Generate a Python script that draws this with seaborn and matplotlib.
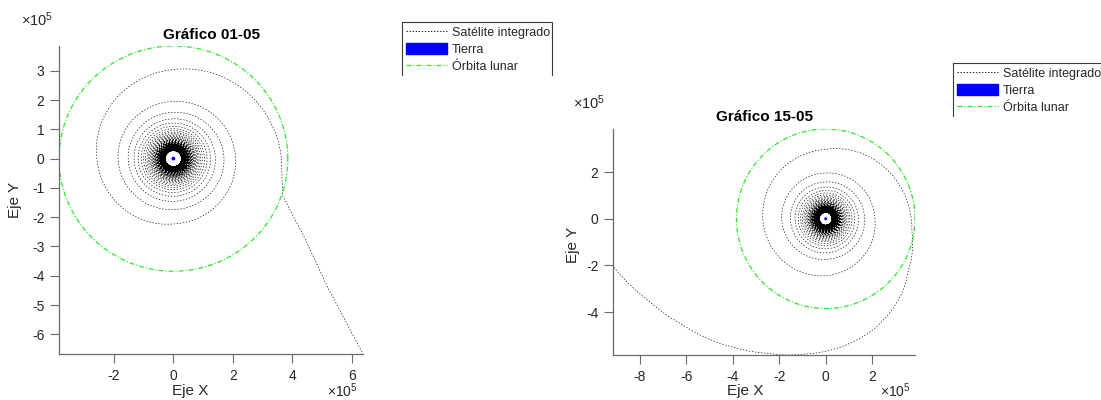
import numpy as np
import pandas as pd
import matplotlib
matplotlib.use("Agg")
import matplotlib.pyplot as plt
import seaborn as sns
from matplotlib.lines import Line2D
from matplotlib.patches import Patch
from matplotlib.ticker import FuncFormatter, MultipleLocator

# ---------------------------------------------------------------- data (km)
EARTH_RADIUS = 6371
MOON_ORBIT_RADIUS = 384400

# spiral radius at the top of every revolution, innermost revolution first
core_top_radius = [
    27000, 27150, 27300, 27450, 27600, 27750, 27900, 28050, 28200, 28350,
    28500, 28650, 28800, 29000, 29200, 29350, 29500, 29700, 29900, 30100,
    30300, 30500, 30700, 30900, 31100, 31300, 31500, 31700, 32000, 32200,
    32400, 32700, 32900, 33200, 33400, 33700, 34000, 34300, 34500, 34800,
    35100, 35400, 35800, 36100, 36400, 36800, 37100, 37500, 37800, 38200,
    38600, 39000, 39500, 39900, 40400, 40800, 41300, 41800, 42300, 42900,
    43400, 44000, 44600, 45300, 45900, 46600, 47300, 48100, 48900, 49700,
    50600, 51600, 52600, 53600, 54700, 55900, 57200, 58500, 60000, 61500,
    63200, 65100, 67100, 69300, 71800, 74500, 77600, 81100, 85100, 89800,
    95300, 102000, 110400, 121200, 136000,
]

# outer loops, radius every quarter turn (right, bottom, left, top, ...)
quarter_radius_0105 = [141000, 146000, 152000, 158000, 170000, 174000, 186000,
                       195000, 209000, 223000, 257000, 304000, 363000]
quarter_radius_1505 = [141000, 146000, 152000, 158000, 168000, 174000, 190000,
                       196000, 212000, 244000, 271000, 297000]

# escape legs after the last loop
escape_x_0105 = [367000, 440000, 519000, 637000]
escape_y_0105 = [-127000, -269000, -441000, -667000]
escape_x_1505 = [371000, 355000, 325000, 208000, -95000, -252000, -398000,
                 -615000, -758000, -916000]
escape_y_1505 = [-52000, -225000, -325000, -472000, -580000, -576000,
                 -550000, -455000, -355000, -203000]

titles = ["Gráfico 01-05", "Gráfico 15-05"]
legend_labels = ["Satélite integrado", "Tierra", "Órbita lunar"]

# ---------------------------------------------------------------- style
sns.set_theme(style="white")
plt.rcParams["font.family"] = ["Liberation Sans", "DejaVu Sans"]
plt.rcParams["mathtext.fontset"] = "custom"
plt.rcParams["mathtext.rm"] = "Liberation Sans"
plt.rcParams["mathtext.it"] = "Liberation Sans:italic"
plt.rcParams["axes.unicode_minus"] = False
plt.rcParams["lines.scale_dashes"] = False

SAT_STYLE = (0, (1.0, 1.2))
MOON_STYLE = (0, (3.6, 1.4, 0.8, 1.4))
MOON_COLOR = "#2ee62e"
AXIS_COLOR = "#6a6a6a"
TEXT_COLOR = "#262626"


def build_track(core, quarters, esc_x, esc_y, polar_escape, per_turn=720):
    """Clockwise spiral through the per-turn / per-quarter radii, then the escape leg."""
    n_core = len(core)
    theta = [np.pi / 2 + 2 * np.pi * (n_core - 1 - m) for m in range(n_core)]
    radius = list(core)
    for j, r in enumerate(quarters, start=1):
        theta.append(np.pi / 2 - j * np.pi / 2)
        radius.append(r)
    if polar_escape:
        for x, y in zip(esc_x, esc_y):
            a = np.arctan2(y, x)
            base = theta[-1]
            theta.append(base - ((base - a) % (2 * np.pi)))
            radius.append(np.hypot(x, y))
    theta = np.asarray(theta)
    radius = np.asarray(radius, dtype=float)
    n = int((theta[0] - theta[-1]) / (2 * np.pi) * per_turn)
    t = np.linspace(theta[0], theta[-1], n)
    r = np.interp(t, theta[::-1], radius[::-1])
    xs, ys = r * np.cos(t), r * np.sin(t)
    if not polar_escape:
        xs = np.concatenate([xs, esc_x])
        ys = np.concatenate([ys, esc_y])
    return pd.DataFrame({"x": xs, "y": ys})


ang = np.linspace(0, 2 * np.pi, 1441)
moon = pd.DataFrame({"x": MOON_ORBIT_RADIUS * np.cos(ang),
                     "y": MOON_ORBIT_RADIUS * np.sin(ang)})

tracks = [
    build_track(core_top_radius, quarter_radius_0105, escape_x_0105,
                escape_y_0105, polar_escape=False),
    build_track(core_top_radius, quarter_radius_1505, escape_x_1505,
                escape_y_1505, polar_escape=True),
]

fig = plt.figure(figsize=(11.01, 4.0), dpi=100)
W, H = 1101, 400

# axes boxes in pixels: left, top, right, bottom
boxes = [(59, 46, 363, 354), (613, 129, 915, 355)]
y_steps = [1e5, 2e5]
legend_rows = [33.5, 74.5]
legend_x = [402, 953]

fmt = FuncFormatter(lambda v, _: f"{v / 1e5:g}")

for i, (track, box) in enumerate(zip(tracks, boxes)):
    l, t, r, b = box
    ax = fig.add_axes([l / W, 1 - b / H, (r - l) / W, (b - t) / H])

    sns.lineplot(data=track, x="x", y="y", sort=False, estimator=None, ax=ax,
                 color="black", lw=0.45, linestyle=SAT_STYLE)
    ax.fill(EARTH_RADIUS * np.cos(ang), EARTH_RADIUS * np.sin(ang),
            color="blue", lw=0, zorder=5)
    sns.lineplot(data=moon, x="x", y="y", sort=False, estimator=None, ax=ax,
                 color=MOON_COLOR, lw=0.9, linestyle=MOON_STYLE)

    xmin = min(track["x"].min(), moon["x"].min())
    xmax = max(track["x"].max(), moon["x"].max())
    ymin = min(track["y"].min(), moon["y"].min())
    ymax = max(track["y"].max(), moon["y"].max())
    ax.set_xlim(xmin, xmax)
    ax.set_ylim(ymin, ymax)

    ax.xaxis.set_major_locator(MultipleLocator(2e5))
    ax.yaxis.set_major_locator(MultipleLocator(y_steps[i]))
    ax.xaxis.set_major_formatter(fmt)
    ax.yaxis.set_major_formatter(fmt)

    for side in ("top", "right"):
        ax.spines[side].set_visible(False)
    for side in ("left", "bottom"):
        ax.spines[side].set_color(AXIS_COLOR)
        ax.spines[side].set_linewidth(0.9)
    ax.tick_params(axis="both", direction="out", length=6.5, width=0.8,
                   color=AXIS_COLOR, labelcolor=TEXT_COLOR, labelsize=10,
                   left=True, bottom=True)
    ax.tick_params(axis="x", pad=4)
    ax.tick_params(axis="y", pad=4)

    pw, ph = r - l, b - t
    ax.set_title(titles[i], fontsize=11, fontweight="bold", color="black",
                 y=(b - (39 if i == 0 else 121)) / ph, pad=0)
    ax.set_xlabel("Eje X", fontsize=11, color=TEXT_COLOR)
    ax.set_ylabel("Eje Y", fontsize=11, color=TEXT_COLOR)
    ax.xaxis.set_label_coords((190 - l) / pw if i == 0 else (745 - l) / pw,
                              (b - 384) / ph)
    ax.yaxis.set_label_coords(((22 if i == 0 else 580) - l) / pw,
                              (b - (200 if i == 0 else 245)) / ph)

    # axis multipliers
    ax.text(((37 if i == 0 else 589) - l) / pw, (b - (20 if i == 0 else 103)) / ph,
            r"$\times10^{5}$", transform=ax.transAxes, ha="center", va="center",
            fontsize=10.5, color=TEXT_COLOR)
    ax.text(((342 if i == 0 else 895) - l) / pw, (b - 391) / ph,
            r"$\times10^{5}$", transform=ax.transAxes, ha="center", va="center",
            fontsize=10, color=TEXT_COLOR)
    ax.set_facecolor("white")

    # legend with an open-bottomed frame
    handles = [
        Line2D([], [], color="black", lw=0.6, linestyle=SAT_STYLE),
        Patch(facecolor="blue", edgecolor="blue"),
        Line2D([], [], color=MOON_COLOR, lw=0.9, linestyle=MOON_STYLE),
    ]
    lx = legend_x[i]
    row1 = legend_rows[i]
    fig.legend(handles, legend_labels, loc="upper left",
               bbox_to_anchor=((lx + 4) / W, 1 - (row1 - 7.5) / H),
               frameon=False, fontsize=9, handlelength=3.3, handleheight=1.05,
               handletextpad=0.35, labelspacing=0.3, borderpad=0,
               borderaxespad=0)
    top = row1 - 11.5
    bot = top + 53
    x1 = lx + 150
    fig.add_artist(Line2D([lx / W, lx / W, x1 / W, x1 / W],
                          [1 - bot / H, 1 - top / H, 1 - top / H, 1 - bot / H],
                          transform=fig.transFigure, color="#3a3a3a", lw=0.8))

fig.savefig("out.png", dpi=100, facecolor="white")
